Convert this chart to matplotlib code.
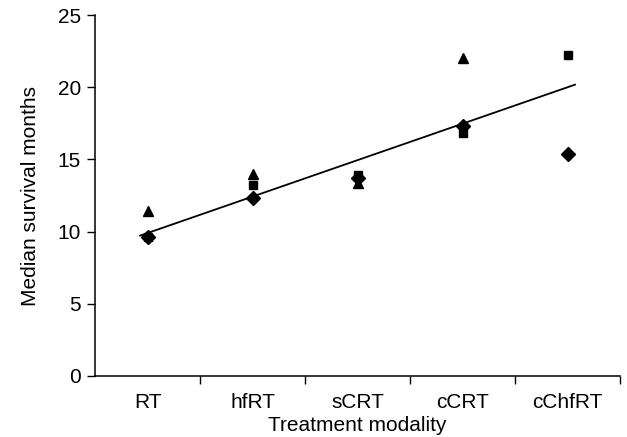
import numpy as np
import matplotlib
matplotlib.use("Agg")
import matplotlib.pyplot as plt

plt.rcParams['font.family'] = ['Liberation Sans', 'DejaVu Sans']

# categories on the x axis
categories = ['RT', 'hfRT', 'sCRT', 'cCRT', 'cChfRT']

# median survival (months) per study series
triangle_vals = [11.4, 14.0, 13.4, 22.0, None]
square_vals = [9.6, 13.2, 13.9, 16.8, 22.2]
diamond_vals = [9.6, 12.3, 13.7, 17.3, 15.4]

# trend line values at first and last category
trend_vals = [9.9, 20.0]


def series_xy(vals):
    xs = [i + 1 for i, v in enumerate(vals) if v is not None]
    ys = [v for v in vals if v is not None]
    return xs, ys


fig = plt.figure(figsize=(6.27, 4.37), dpi=100)
ax = fig.add_axes([0.1515, 0.1396, 0.8375, 0.826])

x, y = series_xy(diamond_vals)
ax.plot(x, y, 'D', color='black', markersize=7.2, linestyle='none')
x, y = series_xy(square_vals)
ax.plot(x, y, 's', color='black', markersize=6.3, linestyle='none')
x, y = series_xy(triangle_vals)
ax.plot(x, y, '^', color='black', markersize=7.8, linestyle='none')

# trend line, slightly extended past first/last category
slope = (trend_vals[1] - trend_vals[0]) / (len(categories) - 1)
tx = np.array([0.93, len(categories) + 0.07])
ty = trend_vals[0] + slope * (tx - 1)
ax.plot(tx, ty, color='black', linewidth=1.3)

ax.set_xlim(0.5, len(categories) + 0.5)
ax.set_ylim(0, 25)
ax.set_yticks([0, 5, 10, 15, 20, 25])
ax.set_xticks(range(1, len(categories) + 1))
ax.set_xticklabels(categories)
ax.set_xticks(np.arange(1.5, len(categories) + 1, 1), minor=True)

ax.tick_params(axis='x', which='major', length=0, labelsize=15, pad=12)
ax.tick_params(axis='x', which='minor', length=6, width=1, direction='out')
ax.tick_params(axis='y', which='major', length=6, width=1, direction='out',
               labelsize=15, pad=4)

ax.spines['top'].set_visible(False)
ax.spines['right'].set_visible(False)
ax.spines['left'].set_linewidth(1.1)
ax.spines['bottom'].set_linewidth(1.1)

ax.set_xlabel('Treatment modality', fontsize=15, labelpad=3)
ax.set_ylabel('Median survival months', fontsize=15, labelpad=13)

fig.savefig('out.png', dpi=100)
